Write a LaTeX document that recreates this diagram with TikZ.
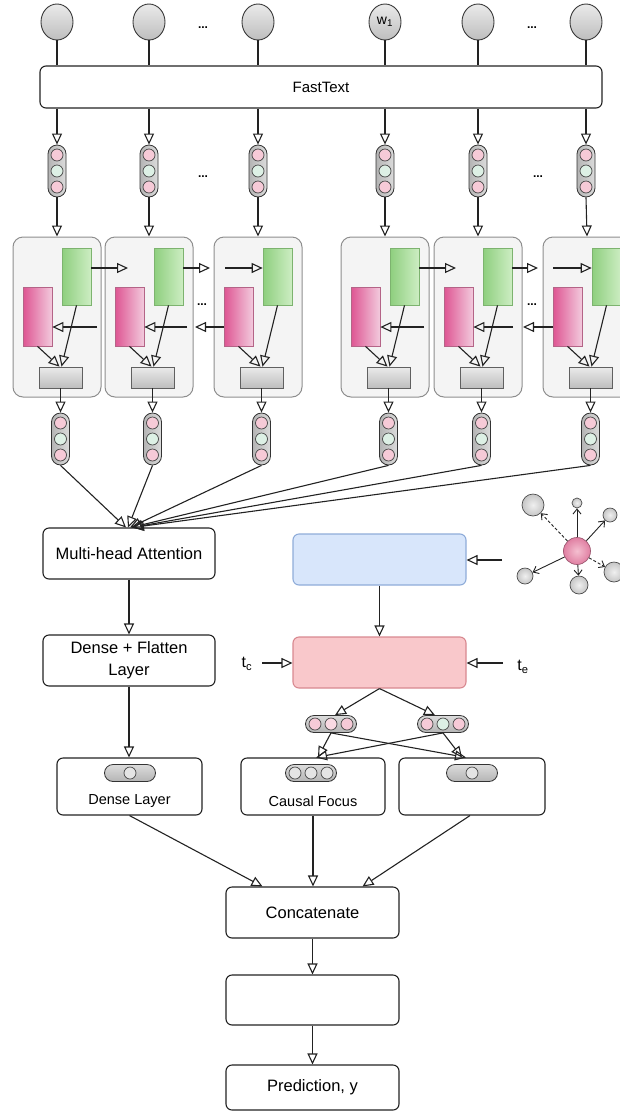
\documentclass[tikz,border=0pt]{standalone}
\usepackage{fontspec}
\setmainfont{Liberation Sans}
\usetikzlibrary{arrows.meta,calc,shapes.geometric}

\definecolor{linec}{HTML}{222222}
\definecolor{cellbg}{HTML}{F4F4F4}
\definecolor{cellbd}{HTML}{8E8E8E}
\definecolor{greenL}{HTML}{8ECF7E}
\definecolor{greenR}{HTML}{CDEDC3}
\definecolor{greenB}{HTML}{7DB36F}
\definecolor{pinkL}{HTML}{DE5592}
\definecolor{pinkR}{HTML}{F2CADD}
\definecolor{pinkB}{HTML}{B46487}
\definecolor{grayT}{HTML}{EAEAEA}
\definecolor{grayB}{HTML}{BEBEBE}
\definecolor{pillL}{HTML}{B4B4B4}
\definecolor{pillR}{HTML}{DCDCDC}
\definecolor{beadpink}{HTML}{F6CAD7}
\definecolor{beadmint}{HTML}{DDF0E5}
\definecolor{beadgray}{HTML}{E4E4E4}
\definecolor{blueF}{HTML}{D8E6FB}
\definecolor{blueB}{HTML}{8FACD9}
\definecolor{roseF}{HTML}{F9C8CB}
\definecolor{roseB}{HTML}{D88990}
\definecolor{hubF}{HTML}{E07FA2}
\definecolor{hubC}{HTML}{F4BFD0}

% vertical three-bead vector
\newcommand\vvec[6]{%
  \node[vpill] (#1) at (#2,#3) {};
  \node[bead,fill=#4] (#1a) at ($(#1.center)+(0,-16)$) {};
  \node[bead,fill=#5] (#1b) at (#1.center) {};
  \node[bead,fill=#6] (#1c) at ($(#1.center)+(0,16)$) {};
}
% horizontal three-bead vector
\newcommand\hvec[6]{%
  \node[hpill] (#1) at (#2,#3) {};
  \node[bead,fill=#4] (#1a) at ($(#1.center)+(-16,0)$) {};
  \node[bead,fill=#5] (#1b) at (#1.center) {};
  \node[bead,fill=#6] (#1c) at ($(#1.center)+(16,0)$) {};
}
% one bi-directional recurrent cell
\newcommand\lstmcell[2]{%
  \node[cell] (b#1) at (#2,317) {};
  \node[fwdbox] (g#1) at (#2+19.5,276.5) {};
  \node[bwdbox] (p#1) at (#2-19.5,316.5) {};
  \node[outbox] (o#1) at (#2+3.5,377.5) {};
  \draw[tri] (p#1.south) -- ($(o#1.north)+(-1,0)$);
  \draw[tri] (g#1.south) -- ($(o#1.north)+(1,0)$);
}

\begin{document}
\begin{tikzpicture}[x=1pt,y=-1pt,
  box/.style={draw=linec, line width=1.1pt, rounded corners=6pt, fill=white,
    inner sep=0pt, align=center, font=\fontsize{16.5}{22}\selectfont},
  word/.style={ellipse, draw=gray!45!black, line width=0.9pt,
    top color=grayT, bottom color=grayB, minimum width=32pt,
    minimum height=36pt, inner sep=0pt},
  tri/.style={-{Triangle[open,length=11pt,width=10pt]}, draw=linec, line width=1.1pt},
  ln/.style={draw=linec, line width=1.1pt},
  cell/.style={draw=cellbd, fill=cellbg, rounded corners=10pt, line width=1pt,
    minimum width=88pt, minimum height=160pt, inner sep=0pt},
  fwdbox/.style={rectangle, draw=greenB, left color=greenL, right color=greenR,
    minimum width=29pt, minimum height=57pt, inner sep=0pt, line width=0.7pt},
  bwdbox/.style={rectangle, draw=pinkB, left color=pinkL, right color=pinkR,
    minimum width=29pt, minimum height=59pt, inner sep=0pt, line width=0.7pt},
  outbox/.style={rectangle, draw=gray!75!black, top color=grayT, bottom color=grayB,
    minimum width=43pt, minimum height=21pt, inner sep=0pt, line width=0.7pt},
  vpill/.style={rectangle, rounded corners=9pt, draw=gray!40!black, line width=0.8pt,
    left color=pillL, right color=pillR, minimum width=18pt, minimum height=52pt, inner sep=0pt},
  hpill/.style={rectangle, rounded corners=8.5pt, draw=gray!40!black, line width=0.8pt,
    top color=pillR, bottom color=pillL, minimum width=51pt, minimum height=17pt, inner sep=0pt},
  bead/.style={circle, draw=gray!55!black, line width=0.7pt, minimum size=12pt, inner sep=0pt},
  dots/.style={font=\fontsize{12}{12}\selectfont\bfseries},
  sat/.style={circle, draw=gray!60!black, line width=0.7pt, inner sep=0pt,
    inner color=gray!12, outer color=gray!45},
  hub/.style={circle, draw=hubF!70!black, line width=0.7pt, inner sep=0pt,
    inner color=hubC, outer color=hubF, minimum size=27pt},
  spoke/.style={-{Straight Barb[length=5pt,width=8pt]}, draw=linec, line width=0.9pt},
  blue/.style={box, fill=blueF, draw=blueB},
  rose/.style={box, fill=roseF, draw=roseB},
  small/.style={font=\fontsize{14.5}{18}\selectfont}
]
\useasboundingbox (0,0) rectangle (620,1112);
\clip (0,0) rectangle (620,1112);

% ---- word inputs and embedding layer ----
\node[word] (w1) at (57,22) {};
\node[word] (w2) at (149,22) {};
\node[word] (w3) at (258,22) {};
\node[word, font=\fontsize{14}{14}\selectfont] (w4) at (385,22) {w\textsubscript{1}};
\node[word] (w5) at (478,22) {};
\node[word] (w6) at (586,22) {};
\node[dots] (e1) at (203,28) {...};
\node[dots] (e2) at (532,28) {...};

\node[box, minimum width=562pt, minimum height=42pt, font=\fontsize{15}{18}\selectfont]
  (ft) at (321,87) {FastText};
\foreach \i in {1,...,6} \draw[ln] (w\i.south) -- (w\i |- ft.north);

% ---- embedding vectors ----
\vvec{v1}{57}{171}{beadpink}{beadmint}{beadpink}
\vvec{v2}{149}{171}{beadpink}{beadmint}{beadpink}
\vvec{v3}{258}{171}{beadpink}{beadmint}{beadpink}
\vvec{v4}{385}{171}{beadpink}{beadmint}{beadpink}
\vvec{v5}{478}{171}{beadpink}{beadmint}{beadpink}
\vvec{v6}{586}{171}{beadpink}{beadmint}{beadpink}
\node[dots] (e3) at (203,177) {...};
\node[dots] (e4) at (538,177) {...};
\foreach \i in {1,...,6} \draw[tri] (v\i |- ft.south) -- (v\i.north);

% ---- recurrent cells ----
\lstmcell{1}{57}
\lstmcell{2}{149}
\lstmcell{3}{258}
\lstmcell{4}{385}
\lstmcell{5}{478}
\lstmcell{6}{587}
\foreach \i in {1,...,6} \draw[tri] (v\i.south) -- (b\i.north);
\node[dots] (e5) at (202,305) {...};
\node[dots] (e6) at (532,305) {...};

% forward direction
\coordinate (f1) at (128,268);
\coordinate (f2) at (210,268);
\coordinate (f3) at (225,268);
\coordinate (f4) at (456,268);
\coordinate (f5) at (538,268);
\coordinate (f6) at (553,268);
\draw[tri] (g1.east |- f1) -- (f1);
\draw[tri] (g2.east |- f2) -- (f2);
\draw[tri] (f3) -- (g3.west |- f3);
\draw[tri] (g4.east |- f4) -- (f4);
\draw[tri] (g5.east |- f5) -- (f5);
\draw[tri] (f6) -- (g6.west |- f6);
% backward direction
\coordinate (r1) at (97,327);
\coordinate (r2) at (187,327);
\coordinate (r3) at (195,327);
\coordinate (r4) at (424,327);
\coordinate (r5) at (513,327);
\coordinate (r6) at (523,327);
\draw[tri] (r1) -- (p1.east |- r1);
\draw[tri] (r2) -- (p2.east |- r2);
\draw[tri] (p3.west |- r3) -- (r3);
\draw[tri] (r4) -- (p4.east |- r4);
\draw[tri] (r5) -- (p5.east |- r5);
\draw[tri] (p6.west |- r6) -- (r6);

% ---- hidden state vectors ----
\vvec{u1}{60.5}{439}{beadpink}{beadmint}{beadpink}
\vvec{u2}{152.5}{439}{beadpink}{beadmint}{beadpink}
\vvec{u3}{261.5}{439}{beadpink}{beadmint}{beadpink}
\vvec{u4}{388.5}{439}{beadpink}{beadmint}{beadpink}
\vvec{u5}{481.5}{439}{beadpink}{beadmint}{beadpink}
\vvec{u6}{590.5}{439}{beadpink}{beadmint}{beadpink}
\foreach \i in {1,...,6} \draw[tri] (o\i.south) -- (u\i.north);

% ---- attention branch ----
\node[box, minimum width=172pt, minimum height=51pt] (mh) at (129,553.5) {Multi-head Attention};
\draw[tri] (u1.south) -- ($(mh.north)+(-3,0)$);
\draw[tri] (u2.south) -- ($(mh.north)+(-1,0)$);
\draw[tri] (u3.south) -- ($(mh.north)+(1,0)$);
\draw[tri] (u4.south) -- ($(mh.north)+(2,0)$);
\draw[tri] (u5.south) -- ($(mh.north)+(3,0)$);
\draw[tri] (u6.south) -- ($(mh.north)+(4,0)$);

\node[box, minimum width=172pt, minimum height=51pt] (df) at (129,660.5) {Dense + Flatten\\Layer};
\draw[tri] (mh.south) -- (df.north);

\node[box, minimum width=145pt, minimum height=57pt] (dl) at (129.5,786.5) {};
\node[small] (dlt) at (129.5,801) {Dense Layer};
\node[hpill] (dlp) at (130,773) {};
\node[bead, fill=beadgray] (dlpb) at (dlp.center) {};
\draw[tri] (df.south) -- (df.south |- dl.north);

% ---- graph / causal branch ----
\node[blue, minimum width=173pt, minimum height=51pt] (cb) at (379.5,559.5) {};
\node[rose, minimum width=173pt, minimum height=51pt] (cr) at (379.5,662.5) {};
\draw[tri] (cb.south) -- (cr.north);

\node[hub] (gc) at (577,551) {};
\node[sat, minimum size=22pt] (s1) at (533,505) {};
\node[sat, minimum size=10pt] (s2) at (577,503) {};
\node[sat, minimum size=14pt] (s3) at (610,515) {};
\node[sat, minimum size=20pt] (s4) at (614,572) {};
\node[sat, minimum size=18pt] (s5) at (579,585) {};
\node[sat, minimum size=16pt] (s6) at (525,576) {};
\draw[spoke, densely dashed] (gc) -- (s1);
\draw[spoke] (gc) -- (s2);
\draw[spoke] (gc) -- (s3);
\draw[spoke, densely dashed] (gc) -- (s4);
\draw[spoke] (gc) -- (s5);
\draw[spoke] (gc) -- (s6);
\coordinate (gin) at (502,560);
\draw[tri] (gin) -- (gin -| cb.east);

\node[font=\fontsize{16}{16}\selectfont] (tc) at (247,664) {t\textsubscript{c}};
\node[font=\fontsize{16}{16}\selectfont] (te) at (523,667) {t\textsubscript{e}};
\coordinate (tca) at (262,663);
\coordinate (tea) at (503,663);
\draw[tri] (tca) -- (tca -| cr.west);
\draw[tri] (tea) -- (tea -| cr.east);

\hvec{h1}{331}{724}{beadpink}{beadpink!70!white}{beadpink}
\hvec{h2}{443}{724}{beadpink}{beadmint}{beadpink}
\draw[tri] (cr.south) -- ($(h1.north)+(4,0)$);
\draw[tri] (cr.south) -- ($(h2.north)+(-8,0)$);

\node[box, minimum width=144pt, minimum height=57pt] (cf) at (313,786.5) {};
\node[small] (cft) at (313,801) {Causal Focus};
\hvec{cfp}{311}{773}{beadgray}{beadgray}{beadgray}
\node[box, minimum width=146pt, minimum height=57pt] (rb) at (472,786.5) {};
\node[hpill] (rbp) at (472,773) {};
\node[bead, fill=beadgray] (rbpb) at (rbp.center) {};

\draw[tri] (h1.south) -- ($(cf.north)+(5,0)$);
\draw[tri] (h1.south) -- ($(rb.north)+(-6,0)$);
\draw[tri] (h2.south) -- ($(cf.north)+(3,0)$);
\draw[tri] (h2.south) -- ($(rb.north)+(-10,0)$);

% ---- output head ----
\node[box, minimum width=173pt, minimum height=51pt] (cc) at (312.5,912.5) {Concatenate};
\node[box, minimum width=173pt, minimum height=50pt] (fc) at (312.5,1000) {};
\node[box, minimum width=173pt, minimum height=45pt] (pr) at (312.5,1087.5) {Prediction, y};
\draw[tri] (dl.south) -- ($(cc.north)+(-50,0)$);
\draw[tri] (cf.south) -- (cf.south |- cc.north);
\draw[tri] ($(rb.south)+(-2,0)$) -- ($(cc.north)+(50,0)$);
\draw[tri] (cc.south) -- (fc.north);
\draw[tri] (fc.south) -- (pr.north);
\end{tikzpicture}
\end{document}
